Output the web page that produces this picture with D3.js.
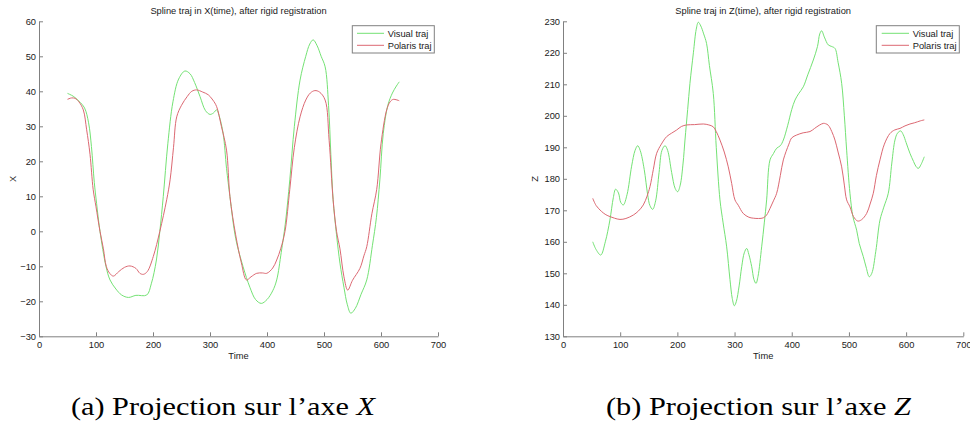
<!DOCTYPE html>
<html><head><meta charset="utf-8">
<script src="https://cdn.jsdelivr.net/npm/d3@7"></script>
<style>
body{margin:0;background:#fff;}
svg{display:block;}
.cap{font-family:"Times New Roman","Liberation Serif",Tinos,Times,serif;font-size:25px;}
</style></head>
<body>
<svg id="c" width="970" height="427"></svg>
<script>
// ---------- data ----------
const titleX = "Spline traj in X(time), after rigid registration";
const titleZ = "Spline traj in Z(time), after rigid registration";
const seriesNames = ["Visual traj", "Polaris traj"];
const xTicks = [0,100,200,300,400,500,600,700];
const yTicksX = [-30,-20,-10,0,10,20,30,40,50,60];
const yTicksZ = [130,140,150,160,170,180,190,200,210,220,230];

// Panel (a): X(time)
const visualX_t = [50,60,70,80,87,92,97,101,107,117.5,124.6,135,145,157,170,189,197,206,212,218,226,235,245,256,265,273,282.5,292,300,306,311.7,316,323,329,335,345,358,370,380,390,400,410,417,425,432,440,448,458,468,475,481,488,495,502,508,512,516,522,528,535,541,547,555,565,575,585,592,598,604,612,620,627,632];
const visualX_v = [39.4,38.6,37.2,35.2,31,24.2,14,8,0,-10,-13.9,-16.5,-18.2,-18.9,-18.3,-18.2,-15,-8.2,0,9.9,25,37,43.5,45.8,45,42.5,38.5,34.5,33.4,33.8,34.7,33,28,18,9.9,-2,-10.1,-16,-19.5,-20.6,-19.5,-17,-13.9,-6,2,14.7,30,43.2,50,53.5,54.7,53,50,47,36,22,9,-1,-9.1,-16,-21,-23.4,-22,-18,-13.9,-4,4,14.7,28,36,39.5,41.5,42.7];
const polarisX_t = [50,57,63,70,77.7,83.6,89.5,95,100,107,113,118,124,130.4,140,150,159.6,170,177,183,190,200.5,212,224,230,236,241.6,250,260,268,276.6,287,297,305,311.7,320,329,335,345,355,364,372,382,392,399.6,410,417,424,431.6,440,448,458,468,476,484,492,502,509,516,522,528,535,541.6,550,563,570,575,584,592.5,600,610,616,621.6,632];
const polarisX_v = [37.7,38.1,38,37,34.7,29,22,12,7,0,-5,-10,-12,-12.8,-11.5,-10.3,-9.9,-10.6,-12,-12.3,-11.5,-7.2,0,9,14.7,24,32.7,36,38.5,40,40.4,39.8,39,37.5,35.6,30,23.2,9.9,-1,-9,-13.9,-13,-12,-11.9,-12,-10.5,-8.2,-5,0,12,24,32.7,37.5,39.5,40.2,39.8,37.5,26,9,0,-5,-13,-16.8,-14,-10.6,-7,-4.4,5,12,25,34.7,37,37.7,37.3];

// Panel (b): Z(time)
const visualZ_t = [52,58,66,74,82,88,92,97,101,105.5,112,120,126,130.6,135,142,148,152,156.8,162,168,173,178.4,183,190,196,200.5,205,210,213.3,218,222,228,233,236.6,241,246,251,256,262.8,268,274.5,280,286.2,292,296,299.6,303,308,312.5,317,321.2,325,330,334,337.5,341,347.4,352,356.1,362,368,373.6,380,385.3,393,400,405.7,412,420.2,428,437.7,445,449,452.3,457,463.9,470,475.6,481,487.3,492,496,501.8,507,513.5,518,525.1,530,535.6,540,547,554.3,561,568.8,575,580.5,585,590.5,595,600,606.7,613,617,621.3,626,631.8];
const visualZ_v = [160,157.5,155.8,160,166.9,174,176.7,175.5,172.5,171.7,175,184,189,190.5,189,183,175,171.5,170.3,173,182,189,190.5,189,182,177,175.9,178,185,192.3,202,210.3,220,227.5,229.7,228.5,226,223,216,207.1,190,173.3,166,158.4,148,142,139.7,141,146,152.1,156.5,157.9,156,152.1,148,146.8,149,158.4,166,173.3,186,188,189.7,190.5,192.3,197,202,205,207,209.2,213,217.7,222,226,227,225,222.5,222,221.4,217,210.3,200,189.1,175.4,168,163.7,159.5,155.3,152,148.9,150,157,166.9,171,175.4,185,192.3,194.5,195.2,194,191.5,188.1,185.5,184,183.3,184.5,187];
const polarisZ_t = [52,58,67.6,75,82.2,90,99.7,110,123,132,140.4,147,152.1,158,163.8,172,181.3,190,198.8,207,216.3,230,245.3,255,262.8,268,274.5,282,289,295,300.7,306.5,315.2,325,332.8,342,350.2,356,362,368,373.6,380,385.3,395,400,408.7,420,431.9,440,448,455.2,459,463.9,470,475.6,481,487.3,492,496,501.8,508,515.3,522,531,537,542.6,548,554.3,562,571.8,580,589.3,598,606.7,615,625,631.8];
const polarisZ_v = [173.8,171.5,169.6,168.6,168,167.5,167.1,167.4,168.5,169.8,171.7,174.5,177.5,183,188.1,191,193.4,194.5,195.5,196.6,197.1,197.2,197.4,197.1,196.5,195,192.3,188.5,183.8,178.5,173.3,171.6,169,167.8,167.5,167.4,167.6,168.5,170.6,173,175.4,181,186,191,193,193.9,194.6,195,196,197,197.6,197.5,197,195,192.3,188.5,183.8,178,173.3,171.1,168,166.6,167,169,172,175.4,181,186,191,194.4,195.5,196,196.8,197.4,197.8,198.4,198.7];

// ---------- drawing ----------
const svg = d3.select("#c");
const GREEN = "#74e274", RED = "#dc6872", AXIS = "#808080";
const SANS = '"Liberation Sans",Arial,sans-serif';

function panel(o){
  const g = svg.append("g");
  const x = d3.scaleLinear().domain([0,700]).range([o.x0, o.x1]);
  const y = d3.scaleLinear().domain(o.yDomain).range([o.yb, o.yt]);

  const xa = g.append("g").attr("transform",`translate(0,${o.yb})`)
    .call(d3.axisBottom(x).tickValues(xTicks).tickSizeInner(-4).tickSizeOuter(0).tickPadding(5));
  const ya = g.append("g").attr("transform",`translate(${o.x0},0)`)
    .call(d3.axisLeft(y).tickValues(o.yTicks).tickSizeInner(-4).tickSizeOuter(0).tickPadding(3));
  [xa,ya].forEach(a=>{
    a.selectAll("path,line").attr("stroke",AXIS).attr("stroke-width",1);
    a.selectAll("text").attr("font-size","9.3px").attr("fill","#1a1a1a").attr("font-family",SANS);
  });

  const line = d3.line().x(d=>x(d[0])).y(d=>y(d[1])).curve(d3.curveCatmullRom.alpha(0.5));
  const s1 = o.vt.map((t,i)=>[t,o.vv[i]]);
  const s2 = o.pt.map((t,i)=>[t,o.pv[i]]);
  g.append("path").attr("d",line(s1)).attr("fill","none").attr("stroke",GREEN).attr("stroke-width",1);
  g.append("path").attr("d",line(s2)).attr("fill","none").attr("stroke",RED).attr("stroke-width",1);

  const txt = (sel)=>sel.attr("font-family",SANS).attr("font-size","9.3px").attr("fill","#1a1a1a");
  txt(g.append("text")).attr("x",(o.x0+o.x1)/2).attr("y",14).attr("text-anchor","middle").text(o.title);
  txt(g.append("text")).attr("x",(o.x0+o.x1)/2).attr("y",359).attr("text-anchor","middle").text("Time");
  txt(g.append("text")).attr("transform",`translate(${o.ylabX},179) rotate(-90)`).attr("text-anchor","middle").text(o.ylab);

  // legend
  const L = o.leg;
  g.append("rect").attr("x",L.x).attr("y",25.7).attr("width",L.w).attr("height",27.3)
    .attr("fill","#fff").attr("stroke",AXIS).attr("stroke-width",1);
  [GREEN,RED].forEach((c,i)=>{
    const yy = 33.3 + i*12;
    g.append("line").attr("x1",L.lx0).attr("x2",L.lx1).attr("y1",yy).attr("y2",yy)
      .attr("stroke",c).attr("stroke-width",1);
    txt(g.append("text")).attr("x",L.tx).attr("y",yy+3.3).text(seriesNames[i]);
  });
}

panel({x0:39,x1:438,yb:336.3,yt:21.3,yDomain:[-30,60],yTicks:yTicksX,
  vt:visualX_t,vv:visualX_v,pt:polarisX_t,pv:polarisX_v,title:titleX,ylab:"X",ylabX:16,
  leg:{x:352.3,w:82,lx0:357,lx1:384,tx:387.7}});
panel({x0:563,x1:963.3,yb:336.3,yt:21.3,yDomain:[130,230],yTicks:yTicksZ,
  vt:visualZ_t,vv:visualZ_v,pt:polarisZ_t,pv:polarisZ_v,title:titleZ,ylab:"Z",ylabX:538,
  leg:{x:876.3,w:83,lx0:881.7,lx1:909,tx:912.7}});

// captions
function caption(x0,w,lab,letter){
  const t = svg.append("text").attr("class","cap").attr("x",x0).attr("y",415).attr("fill","#000")
    .attr("textLength",w).attr("lengthAdjust","spacingAndGlyphs");
  t.append("tspan").text(lab+" Projection sur l\u2019axe ");
  t.append("tspan").style("font-style","italic").text(letter);
}
caption(71,304,"(a)","X");
caption(606,305,"(b)","Z");
</script>
</body></html>
